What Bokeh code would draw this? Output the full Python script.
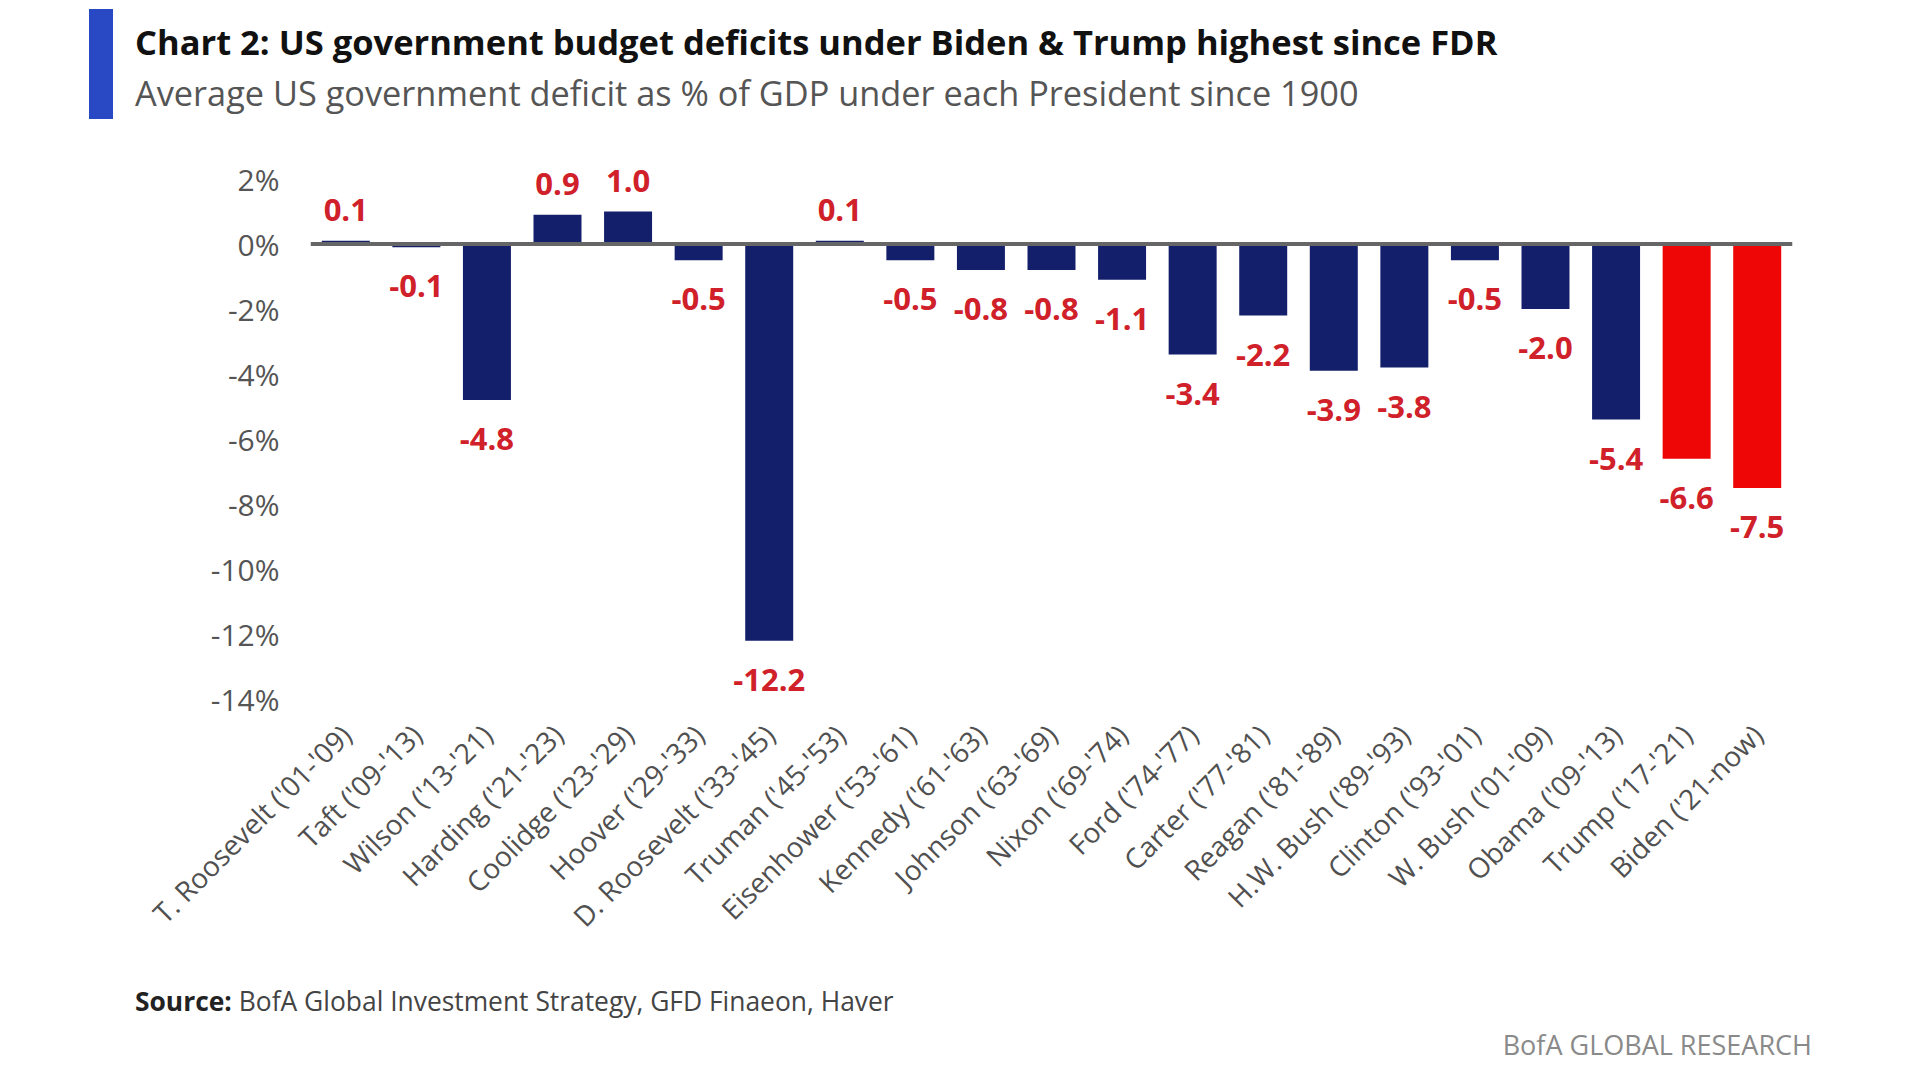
from math import pi
from html import escape

from bokeh.plotting import figure
from bokeh.layouts import column
from bokeh.models import (ColumnDataSource, FactorRange, Range1d, FixedTicker,
                          PrintfTickFormatter, Span, LabelSet, Div)
from bokeh.core.properties import value
from bokeh.embed import file_html
from bokeh.resources import INLINE

# Data
presidents = [
    "T. Roosevelt ('01-'09)", "Taft ('09-'13)", "Wilson ('13-'21)", "Harding ('21-'23)",
    "Coolidge ('23-'29)", "Hoover ('29-'33)", "D. Roosevelt ('33-'45)", "Truman ('45-'53)",
    "Eisenhower ('53-'61)", "Kennedy ('61-'63)", "Johnson ('63-'69)", "Nixon ('69-'74)",
    "Ford ('74-'77)", "Carter ('77-'81)", "Reagan ('81-'89)", "H.W. Bush ('89-'93)",
    "Clinton ('93-'01)", "W. Bush ('01-'09)", "Obama ('09-'13)", "Trump ('17-'21)",
    "Biden ('21-now)",
]
deficit_pct = [0.1, -0.1, -4.8, 0.9, 1.0, -0.5, -12.2, 0.1, -0.5, -0.8, -0.8, -1.1,
               -3.4, -2.2, -3.9, -3.8, -0.5, -2.0, -5.4, -6.6, -7.5]
highlighted = ["Trump ('17-'21)", "Biden ('21-now)"]
y_ticks = [2, 0, -2, -4, -6, -8, -10, -12, -14]

title_text = "Chart 2: US government budget deficits under Biden & Trump highest since FDR"
subtitle_text = "Average US government deficit as % of GDP under each President since 1900"
source_text = "BofA Global Investment Strategy, GFD Finaeon, Haver"
brand_text = "BofA GLOBAL RESEARCH"

NAVY = "#141f6b"
RED_BAR = "#ee0606"
RED_TEXT = "#d0202a"
FONT = "Open Sans"
W = 1904


def text_block(text, left, top, size, color, weight="normal", right=None):
    side = f"right:{right}px;" if right is not None else f"left:{left}px;"
    return (f'<div style="position:absolute;{side}top:{top}px;font-family:\'{FONT}\';'
            f'font-size:{size}px;font-weight:{weight};color:{color};line-height:1;'
            f'white-space:nowrap;">{text}</div>')


# ---- header: accent bar, title, subtitle
header_html = (
    f'<div style="position:relative;width:{W}px;height:146px;">'
    '<div style="position:absolute;left:89px;top:9px;width:24px;height:110px;'
    'background:#2948c4;"></div>'
    + text_block(escape(title_text), 135, 25, 34.5, "#111111", "bold")
    + text_block(escape(subtitle_text), 135, 76, 34.3, "#555555")
    + '</div>'
)
header = Div(text=header_html, width=W, height=146, margin=0)

# ---- chart
colors = [RED_BAR if name in highlighted else NAVY for name in presidents]
labels = [f"{v:.1f}" for v in deficit_pct]
bars = ColumnDataSource(dict(president=presidents, value=deficit_pct, color=colors))

pos = [i for i, v in enumerate(deficit_pct) if v >= 0]
neg = [i for i, v in enumerate(deficit_pct) if v < 0]
pos_src = ColumnDataSource(dict(president=[presidents[i] for i in pos],
                                value=[deficit_pct[i] for i in pos],
                                label=[labels[i] for i in pos]))
neg_src = ColumnDataSource(dict(president=[presidents[i] for i in neg],
                                value=[deficit_pct[i] for i in neg],
                                label=[labels[i] for i in neg]))

p = figure(width=W, height=839, title=None,
           x_range=FactorRange(factors=presidents), y_range=Range1d(-14.5, 3.0),
           toolbar_location=None, tools="", output_backend="svg",
           min_border_left=310, min_border_right=112, min_border_top=0, min_border_bottom=270)
p.outline_line_color = None
p.grid.grid_line_color = None

p.vbar(x="president", top="value", bottom=0, width=0.68, fill_color="color",
       line_color=None, source=bars)

p.add_layout(Span(location=0, dimension="width", line_color="#666666", line_width=4))

p.yaxis.ticker = FixedTicker(ticks=y_ticks)
p.yaxis.formatter = PrintfTickFormatter(format="%d%%")
for ax in (p.xaxis, p.yaxis):
    ax.axis_line_color = None
    ax.major_tick_line_color = None
    ax.minor_tick_line_color = None
    ax.major_tick_out = 0
    ax.major_tick_in = 0
    ax.major_label_text_font = FONT
p.yaxis.major_label_text_font_size = "30px"
p.yaxis.major_label_text_color = "#555555"
p.yaxis.major_label_standoff = 31
p.xaxis.major_label_text_font_size = "28px"
p.xaxis.major_label_text_color = "#505050"
p.xaxis.major_label_orientation = pi / 4
p.xaxis.major_label_standoff = 14

p.add_layout(LabelSet(x="president", y="value", text="label", source=pos_src,
                      y_offset=20, text_align="center", text_baseline="bottom",
                      text_font=value(FONT), text_font_style="bold",
                      text_font_size="31px", text_color=RED_TEXT))
p.add_layout(LabelSet(x="president", y="value", text="label", source=neg_src,
                      y_offset=-28, text_align="center", text_baseline="top",
                      text_font=value(FONT), text_font_style="bold",
                      text_font_size="31px", text_color=RED_TEXT))

# ---- footer: source and brand
footer_html = (
    f'<div style="position:relative;width:{W}px;height:79px;">'
    + text_block('<span style="color:#222222;font-weight:bold;">Source:</span> '
                 + escape(source_text), 135, 3, 26.4, "#444444")
    + text_block(escape(brand_text), 0, 46, 27, "#8a8a8a", right=92)
    + '</div>'
)
footer = Div(text=footer_html, width=W, height=79, margin=0)

layout = column(header, p, footer, spacing=0)
open("out.html", "w").write(file_html(layout, INLINE))
